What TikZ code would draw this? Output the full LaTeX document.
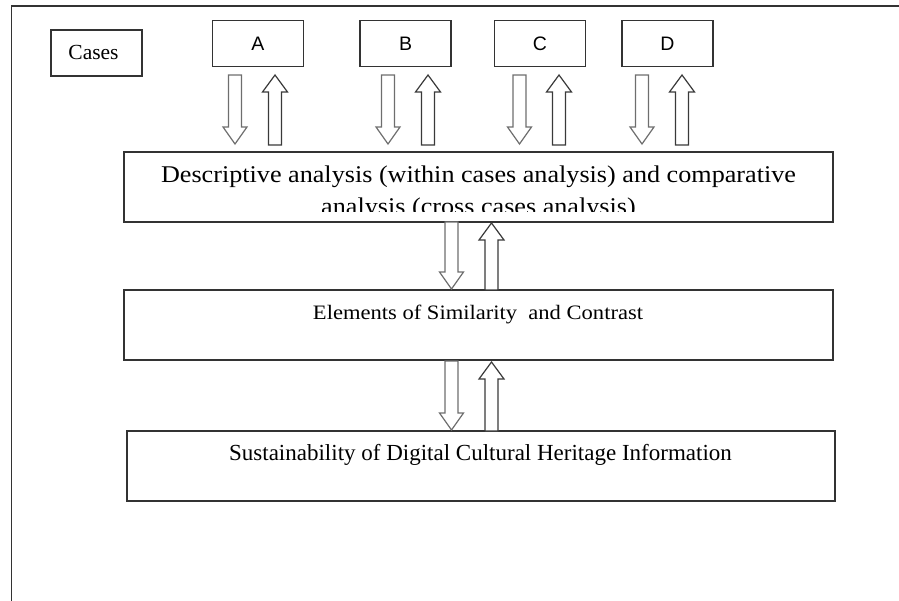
\documentclass[tikz,border=0pt]{standalone}
\usepackage{fontspec}
\setmainfont{Liberation Serif}
\newfontfamily\arialf{Liberation Sans}
\definecolor{edge}{HTML}{333333}
\definecolor{dnedge}{HTML}{6E6E6E}
\definecolor{upedge}{HTML}{3A3A3A}
\newcommand\blkdn[3]{% center x, top y, tip y
  \draw[dnarrow] (#1-6.5,#2) -- (#1+6.5,#2) -- (#1+6.5,#3-17) -- (#1+12,#3-17) -- (#1,#3)
    -- (#1-12,#3-17) -- (#1-6.5,#3-17) -- cycle;}
\newcommand\blkup[3]{% center x, tip y, bottom y
  \draw[uparrow] (#1-6.5,#3) -- (#1+6.5,#3) -- (#1+6.5,#2+17) -- (#1+12.5,#2+17) -- (#1,#2)
    -- (#1-12.5,#2+17) -- (#1-6.5,#2+17) -- cycle;}
\begin{document}
\begin{tikzpicture}[x=1pt,y=-1pt,
  box/.style={draw=edge, line width=1.3pt, rectangle, inner sep=0pt},
  smallbox/.style={box, minimum width=91pt, minimum height=46pt},
  bigbox/.style={box, minimum width=709pt, minimum height=70pt},
  letter/.style={font=\arialf\fontsize{19.5}{22}\selectfont},
  dnarrow/.style={draw=dnedge, line width=1.2pt, fill=white, line join=miter},
  uparrow/.style={draw=upedge, line width=1.2pt, fill=white, line join=miter},
  frame/.style={draw=edge, line width=1.3pt}]
\useasboundingbox (0,0) rectangle (899,601);
\draw[frame] (11.5,601) -- (11.5,6) -- (899,6);

% top boxes
\node[smallbox] (cases) at (96.5,53)
  {\fontsize{21.5}{24}\selectfont\hspace*{-6pt}\raisebox{2pt}{Cases}};
\node[smallbox, letter] (A) at (258,43.5) {\raisebox{-1pt}{A}};
\node[smallbox, letter] (B) at (405.5,43.5) {\raisebox{-1pt}{B}};
\node[smallbox, letter] (C) at (540,43.5) {\raisebox{-1pt}{C}};
\node[smallbox, letter] (D) at (667.5,43.5) {\raisebox{-1pt}{D}};

% big boxes
\node[bigbox] (desc) at (478.5,187) {};
\node[bigbox] (elem) at (478.5,325) {};
\node[bigbox, minimum width=708pt] (sust) at (481,466) {};

\begin{scope}
  \clip (125,153) rectangle (832,212);
  \node[anchor=base, align=center, inner sep=0pt, xscale=1.09,
        font=\fontsize{24}{32}\selectfont] (desctext) at (478.5,215)
    {Descriptive analysis (within cases analysis) and comparative\\analysis (cross cases analysis)};
\end{scope}
\node[anchor=base, inner sep=0pt, xscale=1.1, font=\fontsize{20.5}{22}\selectfont] (elemtext) at (478,320)
  {Elements of Similarity\ \ and Contrast};
\node[anchor=base, inner sep=0pt, font=\fontsize{23}{26}\selectfont] (susttext) at (480.5,460)
  {Sustainability of Digital Cultural Heritage Information};

% arrows between cases and descriptive box
\blkdn{235}{75}{144}  \blkup{275}{75}{145}
\blkdn{388}{75}{144}  \blkup{428}{75}{145}
\blkdn{519.5}{75}{144}\blkup{559}{75}{145}
\blkdn{642}{75}{144}  \blkup{682}{75}{145}

% arrows between big boxes
\blkdn{451.5}{222}{289} \blkup{491.5}{223}{290}
\blkdn{451.5}{361}{430} \blkup{491.5}{362}{431}
\end{tikzpicture}
\end{document}
